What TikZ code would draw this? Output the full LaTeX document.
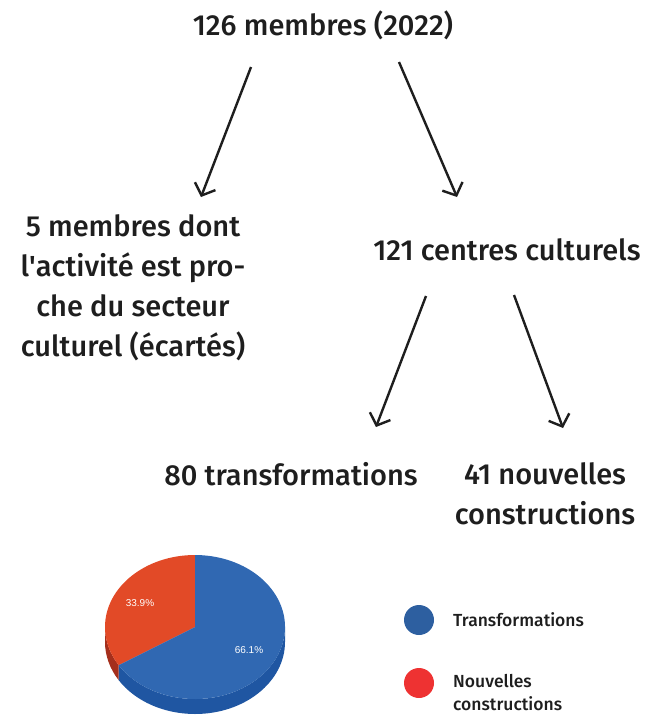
\documentclass[tikz,border=0pt]{standalone}
\usepackage{fontspec}
\setmainfont{Fira Sans}[UprightFont=* Medium]
\newfontfamily\pctfont{Liberation Sans}
\usetikzlibrary{arrows.meta}
\definecolor{txt}{HTML}{1E1E1E}
\definecolor{pieblue}{HTML}{3068B2}
\definecolor{pieblueside}{HTML}{1F56A2}
\definecolor{piered}{HTML}{E24A27}
\definecolor{pieredside}{HTML}{A52F1C}
\definecolor{legblue}{HTML}{2D5FA0}
\definecolor{legred}{HTML}{EE3232}
\tikzset{
  lbl/.style={text=txt, font=\fontsize{29}{40}\selectfont, align=center, inner sep=0pt},
  arr/.style={draw=txt, line width=2.4pt, -{Straight Barb[length=10pt,width=22pt,line width=2.4pt]}},
  pct/.style={text=white, font=\pctfont\fontsize{10}{11}\selectfont, inner sep=0pt},
  leg/.style={text=txt, font=\fontsize{17.5}{23}\selectfont, align=left, anchor=west, inner sep=0pt},
}
\begin{document}
\begin{tikzpicture}[x=1pt,y=-1pt]
\useasboundingbox (0,0) rectangle (662,715);
\node[lbl] (top) at (323,25) {126 membres (2022)};
\node[lbl] (left) at (133,288) {5 membres dont\\l\textquotesingle activité est pro-\\che du secteur\\culturel (écartés)};
\node[lbl] (mid) at (507,250) {121 centres culturels};
\node[lbl] (tr) at (291,474) {80 transformations};
\node[lbl] (nc) at (545,494) {41 nouvelles\\constructions};
\coordinate (a1s) at (251,67); \coordinate (a1e) at (201,197);
\coordinate (a2s) at (399,62); \coordinate (a2e) at (457,197);
\coordinate (a3s) at (426,296); \coordinate (a3e) at (376,427);
\coordinate (a4s) at (514,295); \coordinate (a4e) at (563,428);
\draw[arr] (a1s) -- (a1e);
\draw[arr] (a2s) -- (a2e);
\draw[arr] (a3s) -- (a3e);
\draw[arr] (a4s) -- (a4e);
% pie
\begin{scope}[shift={(195,627)}, yscale=-1]
  \fill[pieblueside] (212:90 and 72) arc[start angle=212, end angle=360, x radius=90, y radius=72] -- ++(0,-15) arc[start angle=360, end angle=212, x radius=90, y radius=72] -- cycle;
  \fill[pieredside] (180:90 and 72) arc[start angle=180, end angle=212, x radius=90, y radius=72] -- ++(0,-15) arc[start angle=212, end angle=180, x radius=90, y radius=72] -- cycle;
  \fill[piered] (0,0) -- (0,72) arc[start angle=90, end angle=212, x radius=90, y radius=72] -- cycle;
  \fill[pieblue] (0,0) -- (212:90 and 72) arc[start angle=212, end angle=450, x radius=90, y radius=72] -- cycle;
\end{scope}
\node[pct] (p1) at (140,603) {33.9\%};
\node[pct] (p2) at (249,650) {66.1\%};
% legend
\fill[legblue] (419,620) circle (15);
\fill[legred] (419,683) circle (15);
\node[leg] (l1) at (453,620) {Transformations};
\node[leg] (l2) at (453,693) {Nouvelles\\constructions};
\end{tikzpicture}
\end{document}
